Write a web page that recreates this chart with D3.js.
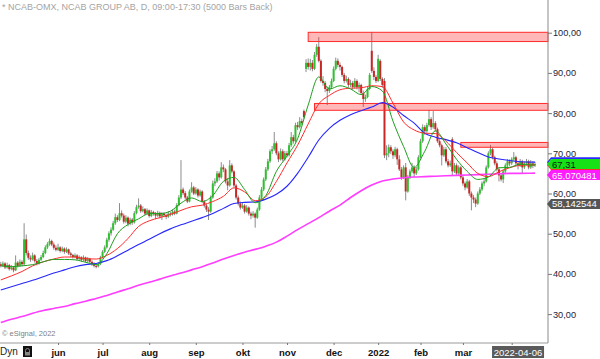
<!DOCTYPE html>
<html>
<head>
<meta charset="utf-8">
<script src="https://cdn.jsdelivr.net/npm/d3@7"></script>
<style>
body{margin:0;background:#fff}
svg{display:block;font-family:"Liberation Sans",Arial,sans-serif}
</style>
</head>
<body>
<svg id="chart" width="600" height="359"></svg>
<script>
// trading calendar (weekdays minus Stockholm holidays)
var firstDay = "2021-04-22", lastDay = "2022-04-20";
var holidays = ["2021-05-13","2021-06-25","2021-12-24","2021-12-31","2022-01-06","2022-04-15","2022-04-18"];

// daily OHLC
var opens = [
42.4,42.0,42.6,41.6,42.2,41.2,41.6,40.9,42.8,42.0,
43.0,42.4,48.6,45.2,44.0,43.6,44.6,43.2,42.6,43.5,
44.2,45.2,46.6,47.4,48.2,47.3,46.5,46.0,46.6,45.7,
46.3,45.5,46.1,45.1,44.7,44.2,44.6,43.7,44.1,43.5,
44.1,43.2,43.8,43.0,42.5,42.0,41.9,42.4,44.1,45.5,
46.6,48.5,50.1,51.0,52.6,54.1,53.4,55.1,54.5,53.0,
54.0,52.5,53.5,52.8,55.1,56.6,57.0,55.6,56.1,55.0,
55.8,54.4,55.4,55.0,54.5,55.2,54.3,55.0,54.6,54.2,
55.0,54.8,55.5,55.0,57.1,59.0,61.0,60.1,59.0,58.0,
60.5,61.5,60.0,61.0,59.5,60.5,58.0,57.0,56.0,55.5,
59.0,62.5,63.0,65.0,64.0,66.5,66.0,63.0,62.0,67.0,
65.5,62.0,59.0,57.5,56.5,57.0,55.5,56.5,55.0,54.5,
55.0,54.0,56.0,59.0,61.0,63.5,66.0,68.0,70.5,71.0,
72.5,70.0,68.5,70.5,68.5,70.0,69.5,72.0,74.0,73.0,
77.0,76.5,78.0,80.5,91.0,92.5,91.5,92.5,91.0,94.5,
96.5,93.0,88.0,87.5,86.0,85.5,86.5,88.0,91.0,93.0,
92.0,91.5,89.5,88.0,88.5,87.0,87.5,86.5,88.0,86.5,
87.0,85.0,83.5,84.0,86.0,95.5,90.5,89.0,88.0,93.0,
88.5,88.0,69.5,70.0,71.5,70.5,69.5,71.0,68.5,66.0,
64.0,66.5,60.5,64.0,65.5,66.5,65.0,66.0,69.0,73.0,
76.5,75.5,77.0,78.5,76.5,77.5,76.0,73.0,72.0,69.5,
71.0,68.0,67.0,73.5,65.5,67.0,65.0,66.5,64.0,62.5,
61.5,63.0,60.0,59.0,58.5,57.5,60.0,61.0,62.5,63.0,
66.5,70.0,71.0,69.0,67.5,66.0,64.5,63.5,65.5,67.0,
68.0,67.5,68.5,69.0,67.5,67.0,68.0,66.5,67.5,68.0,
66.5,67.5,67.0];
var highs = [
43.0,43.1,42.9,42.8,42.5,42.2,41.9,44.6,43.2,43.6,
43.4,52.6,49.8,45.8,44.6,45.3,44.9,43.7,44.0,44.7,
45.8,47.1,47.9,48.8,48.5,47.8,47.1,47.5,46.9,46.8,
46.6,46.6,46.3,45.5,45.0,45.1,44.9,44.6,44.4,44.6,
44.3,44.2,44.0,43.4,42.9,42.5,42.9,44.5,45.9,47.1,
49.0,50.6,51.6,53.2,55.0,54.6,57.6,55.8,55.0,54.6,
54.3,54.0,53.9,55.6,57.2,58.8,57.4,56.8,56.4,56.3,
56.0,55.9,55.7,55.4,55.7,55.5,55.4,55.3,55.0,55.6,
55.4,56.0,56.0,57.6,59.6,68.3,61.5,60.6,59.4,61.0,
62.8,61.9,61.6,61.3,61.0,60.8,58.4,57.5,56.6,59.5,
63.2,63.8,65.6,65.5,67.8,67.2,66.3,63.8,68.3,67.5,
65.8,62.4,59.5,58.0,57.8,57.4,57.1,56.8,55.5,55.6,
55.3,56.5,59.6,61.6,64.0,66.6,68.6,71.0,71.8,75.3,
73.0,70.5,71.2,71.0,70.6,70.6,72.6,75.3,74.6,77.6,
77.8,79.0,78.6,80.9,93.4,93.6,93.5,93.2,95.2,97.2,
98.9,93.4,89.2,88.0,86.6,87.0,88.6,91.6,93.8,93.6,
92.6,91.8,90.0,89.3,88.9,88.3,88.0,88.7,88.4,87.6,
87.3,85.6,84.6,86.6,90.0,100.2,91.4,89.5,94.5,93.4,
88.9,88.7,72.0,72.2,72.0,71.0,71.6,71.4,69.5,66.6,
67.0,67.6,64.6,66.0,67.6,67.0,66.6,69.5,73.6,77.2,
77.0,77.6,80.8,79.0,80.5,78.0,76.4,73.5,72.4,71.6,
71.6,68.6,68.2,74.0,67.6,67.5,67.0,66.9,64.5,63.0,
63.6,63.4,60.5,59.6,59.0,60.5,61.6,63.0,63.6,67.0,
70.5,72.1,71.4,69.4,68.0,66.5,65.0,66.0,67.5,68.6,
68.5,69.0,70.3,69.4,68.0,68.6,68.4,68.0,68.6,68.4,
68.3,68.0,67.9];
var lows = [
41.6,41.7,41.2,41.3,40.8,40.9,40.4,40.7,41.6,41.8,
41.9,42.1,44.6,43.5,43.0,43.3,42.8,42.1,42.3,43.2,
43.9,44.9,46.2,47.0,46.9,46.0,45.6,45.7,45.3,45.4,
45.0,45.2,44.7,44.2,43.8,43.9,43.3,43.4,43.0,43.2,
42.8,42.9,42.6,42.0,41.6,41.4,41.6,42.2,43.8,45.2,
46.3,48.0,49.5,50.7,52.2,52.9,53.1,54.0,52.5,52.6,
51.8,52.1,52.2,52.5,54.8,56.2,55.2,55.3,54.6,54.7,
54.0,54.1,54.5,53.6,54.2,53.8,53.4,54.1,53.6,53.9,
54.3,54.5,54.6,54.8,56.8,58.6,59.6,58.5,57.6,57.8,
60.2,59.6,59.7,59.0,59.2,57.6,56.5,55.4,53.4,55.2,
58.7,61.8,62.6,63.2,63.7,65.3,62.5,60.8,61.7,65.0,
61.5,58.5,57.0,56.0,56.2,55.0,55.2,54.5,53.6,54.0,
51.5,53.7,55.7,58.6,60.6,63.1,65.6,67.6,69.8,70.6,
69.5,67.8,68.2,68.0,68.2,69.0,69.2,71.6,72.4,72.7,
75.8,76.2,77.0,78.6,90.2,90.8,90.6,90.4,90.7,94.0,
92.6,87.6,86.8,85.2,82.0,85.0,86.0,87.7,90.6,91.4,
90.6,89.0,87.4,87.6,86.4,86.5,85.8,86.1,85.9,85.2,
84.5,81.5,82.8,83.7,85.7,90.0,88.2,87.5,87.7,88.0,
86.3,68.8,68.3,69.0,69.8,68.6,69.0,67.1,65.6,63.4,
63.6,58.3,60.2,63.6,65.1,64.1,64.6,65.7,68.7,72.6,
74.6,75.1,76.6,75.8,76.1,75.4,72.6,71.5,67.0,69.1,
67.5,66.5,66.6,64.5,65.1,64.4,64.6,63.5,61.9,60.8,
61.2,59.4,55.8,57.6,56.6,57.2,59.6,60.6,61.8,62.7,
66.2,69.5,68.5,67.0,65.5,63.0,63.0,62.6,65.1,66.5,
66.8,67.1,68.1,67.0,66.0,66.6,65.0,66.1,67.0,66.0,
66.1,66.3,66.6];
var closes = [
42.0,42.6,41.6,42.2,41.2,41.6,40.9,42.8,42.0,43.0,
42.4,48.6,45.2,44.0,43.6,44.6,43.2,42.6,43.5,44.2,
45.2,46.6,47.4,48.2,47.3,46.5,46.0,46.6,45.7,46.3,
45.5,46.1,45.1,44.7,44.2,44.6,43.7,44.1,43.5,44.1,
43.2,43.8,43.0,42.5,42.0,41.9,42.4,44.1,45.5,46.6,
48.5,50.1,51.0,52.6,54.1,53.4,55.1,54.5,53.0,54.0,
52.5,53.5,52.8,55.1,56.6,57.0,55.6,56.1,55.0,55.8,
54.4,55.4,55.0,54.5,55.2,54.3,55.0,54.6,54.2,55.0,
54.8,55.5,55.0,57.1,59.0,61.0,60.1,59.0,58.0,60.5,
61.5,60.0,61.0,59.5,60.5,58.0,57.0,56.0,55.5,59.0,
62.5,63.0,65.0,64.0,66.5,66.0,63.0,62.0,67.0,65.5,
62.0,59.0,57.5,56.5,57.0,55.5,56.5,55.0,54.5,55.0,
54.0,56.0,59.0,61.0,63.5,66.0,68.0,70.5,71.0,72.5,
70.0,68.5,70.5,68.5,70.0,69.5,72.0,74.0,73.0,77.0,
76.5,78.0,77.5,79.0,92.5,91.5,92.5,91.0,94.5,96.5,
93.0,88.0,87.5,86.0,85.5,86.5,88.0,91.0,93.0,92.0,
91.5,89.5,88.0,88.5,87.0,87.5,86.5,88.0,86.5,87.0,
85.0,83.5,84.0,86.0,89.5,90.5,89.0,88.0,93.5,88.5,
87.0,69.5,70.0,71.5,70.5,69.5,71.0,68.5,66.0,64.0,
66.5,60.5,64.0,65.5,66.5,65.0,66.0,69.0,73.0,76.5,
75.5,77.0,78.5,76.5,77.5,76.0,73.0,72.0,69.5,71.0,
68.0,67.0,67.5,65.5,67.0,65.0,66.5,64.0,62.5,61.5,
63.0,60.0,59.0,58.5,57.5,60.0,61.0,62.5,63.0,66.5,
70.0,71.0,69.0,67.5,66.0,64.5,63.5,65.5,67.0,68.0,
67.5,68.5,69.0,67.5,67.0,68.0,66.5,67.5,68.0,66.5,
67.5,67.0,67.31];

// moving averages, one reading every 5th bar (last = last bar)
var maStep = 5;
var ma10 = [42.0,41.8,42.0,42.3,43.0,43.6,43.6,43.5,42.9,42.3,
45.0,50.0,52.3,53.7,55.0,55.0,55.6,57.6,58.9,58.0,
59.5,63.0,64.0,61.0,57.7,59.5,65.5,69.3,73.6,82.0,
89.0,86.0,86.8,86.0,84.6,86.6,85.5,78.0,71.7,66.5,
70.5,75.6,72.3,68.5,65.5,63.5,64.1,66.4,66.5,67.3,
67.1,67.1];
var ma20 = [38.5,39.5,40.6,42.0,43.0,43.7,44.2,44.2,43.8,43.7,
44.6,46.3,48.8,51.8,53.2,54.0,54.8,55.8,56.7,57.1,
58.0,59.3,61.4,60.4,58.2,59.2,63.0,67.6,72.0,77.3,
82.3,84.4,85.8,86.2,86.3,86.8,86.6,82.5,77.8,75.8,
75.0,74.9,73.0,70.2,67.6,65.0,64.2,65.4,66.4,67.0,
67.1,67.1];
var ma50 = [36.0,36.8,37.6,38.4,39.3,40.2,41.0,41.8,42.3,42.6,
43.3,44.5,45.9,47.3,48.6,50.0,51.2,52.2,53.1,54.0,
55.0,56.3,57.5,57.8,57.9,58.6,59.8,61.8,65.0,69.0,
73.3,76.2,78.2,79.6,80.6,81.5,82.6,81.5,79.4,77.5,
75.0,74.0,73.4,72.6,71.4,70.2,69.1,68.6,68.2,67.9,
67.8,67.8];
var ma200 = [27.9,28.7,29.4,30.2,30.9,31.4,31.9,32.6,33.2,33.9,
34.6,35.5,36.3,37.2,37.9,38.7,39.5,40.2,41.0,41.8,
42.7,43.7,44.6,45.4,46.1,46.9,47.9,49.4,51.0,52.5,
54.0,55.6,57.1,59.0,60.7,62.1,63.1,63.6,63.9,64.1,
64.2,64.3,64.4,64.5,64.6,64.7,64.8,64.9,65.0,65.0,
65.05,65.070481];
var refLevel = 58.142544;

// support / resistance zones: [from date, low, high]
var zones = [["2021-11-15",97.8,100.1],["2021-11-18",80.7,82.4],["2022-02-28",71.5,72.7]];

var yTicks = [30,40,50,60,70,80,90,100];
var tickDates = ["2021-06-01","2021-07-01","2021-08-02","2021-09-01","2021-10-01","2021-11-01","2021-12-01","2022-01-03","2022-02-01","2022-03-01","2022-04-01"];
var tickLabels = ["jun","jul","aug","sep","okt","nov","dec","2022","feb","mar",""];
var cursorDate = "2022-04-06";

var svg = d3.select("#chart");
var fmt = d3.utcFormat("%Y-%m-%d"), parse = d3.utcParse("%Y-%m-%d");
var days = d3.utcDays(parse(firstDay), d3.utcDay.offset(parse(lastDay), 1))
  .filter(d => d.getUTCDay() % 6 !== 0 && holidays.indexOf(fmt(d)) < 0)
  .map(fmt);
var n = Math.min(days.length, closes.length);
days = days.slice(0, n);

var axisX = 548, axisY = 343;
var x = d3.scalePoint().domain(days).range([0.8, 535]);
var y = d3.scaleLinear().domain([30, 100]).range([314.1, 32.7]);
var comma = v => v.replace(".", ",");

var bars = days.map((d, i) => ({d: d, o: opens[i], h: highs[i], l: lows[i], c: closes[i]}));

svg.append("rect").attr("width", 600).attr("height", 359).attr("fill", "#fff");

// title + credit
svg.append("text").attr("x", 2).attr("y", 10).attr("font-size", 9).attr("fill", "#a4a4a4")
  .text("* NCAB-OMX, NCAB GROUP AB, D, 09:00-17:30 (5000 Bars Back)");
svg.append("text").attr("x", 2).attr("y", 336).attr("font-size", 7.5).attr("fill", "#808080")
  .text("\u00a9 eSignal, 2022");

// candles
var cg = svg.append("g");
cg.selectAll("line").data(bars).join("line")
  .attr("x1", d => x(d.d)).attr("x2", d => x(d.d))
  .attr("y1", d => y(d.h)).attr("y2", d => y(d.l))
  .attr("stroke", "#8c8c8c").attr("stroke-width", 1);
cg.selectAll("rect").data(bars).join("rect")
  .attr("x", d => x(d.d) - 1).attr("width", 2)
  .attr("y", d => y(Math.max(d.o, d.c)))
  .attr("height", d => Math.max(1, Math.abs(y(d.o) - y(d.c))))
  .attr("fill", d => d.c >= d.o ? "#2ec02e" : "#c92626");

// zones
svg.append("g").selectAll("rect").data(zones).join("rect")
  .attr("x", d => x(d[0])).attr("width", d => axisX - x(d[0]))
  .attr("y", d => y(d[2])).attr("height", d => y(d[1]) - y(d[2]))
  .attr("fill", "#ff2020").attr("fill-opacity", 0.32)
  .attr("stroke", "#ff2a2a").attr("stroke-width", 1);

// moving averages
var maLine = d3.line()
  .x((v, k) => x(days[Math.min(k * maStep, n - 1)]))
  .y(v => y(v))
  .curve(d3.curveMonotoneX);
[[ma200, "#ff3cff", 1.6], [ma50, "#2626ff", 1.1], [ma20, "#ff2b2b", 1], [ma10, "#1e9e1e", 1]]
  .forEach(m => {
    svg.append("path").attr("d", maLine(m[0])).attr("fill", "none")
      .attr("stroke", m[1]).attr("stroke-width", m[2]);
  });

// right axis
svg.append("line").attr("x1", axisX).attr("x2", axisX).attr("y1", 0).attr("y2", axisY)
  .attr("stroke", "#8a8a8a");
var ya = svg.append("g").attr("transform", "translate(" + axisX + ",0)")
  .call(d3.axisRight(y).tickValues(yTicks).tickSize(4).tickPadding(1)
    .tickFormat(v => comma(d3.format(".2f")(v))));
ya.select(".domain").remove();
ya.selectAll("line").attr("stroke", "#777");
ya.selectAll("text").attr("font-size", 9.2).attr("fill", "#1c1c38")
  .attr("font-family", "Liberation Sans, Arial, sans-serif");

// value flags
function flag(yc, fill, txt, txtFill) {
  var g = svg.append("g");
  g.append("path")
    .attr("d", "M" + (axisX - 1) + "," + yc + "L" + (axisX + 3) + "," + (yc - 5) + "H600V" + (yc + 5) + "H" + (axisX + 3) + "Z")
    .attr("fill", fill);
  g.append("text").attr("x", axisX + 4).attr("y", yc + 3.4).attr("font-size", 9.5)
    .attr("fill", txtFill).text(txt);
}
var lastC = closes[n - 1];
flag(y(ma50[ma50.length - 1]), "#2a2aff", "", "#fff");
flag(y(ma20[ma20.length - 1]), "#ff2b2b", "", "#fff");
var yc = y(lastC);
flag(yc, "#16e016", comma(d3.format(".2f")(lastC)), "#102010");
var ym = Math.max(y(ma200[ma200.length - 1]), yc + 11);
flag(ym, "#ff1cff", comma(d3.format(".6f")(ma200[ma200.length - 1])), "#fff");
// keep the grey flag just clear of the 60,00 tick label
flag(Math.max(y(refLevel) + 1, y(60) + 10.5), "#555", comma(d3.format(".6f")(refLevel)), "#fff");

// bottom axis
svg.append("line").attr("x1", 0).attr("x2", axisX).attr("y1", axisY).attr("y2", axisY)
  .attr("stroke", "#9a9a9a");
var xa = svg.append("g").attr("transform", "translate(0," + axisY + ")")
  .call(d3.axisBottom(x).tickValues(tickDates).tickSize(2).tickPadding(4)
    .tickFormat((d, i) => tickLabels[i]));
xa.select(".domain").remove();
xa.selectAll("line").attr("stroke", "#777");
xa.selectAll("text").attr("font-size", 9.5).attr("font-weight", "bold").attr("fill", "#111")
  .attr("font-family", "Liberation Sans, Arial, sans-serif");

svg.append("text").attr("x", 0).attr("y", 355).attr("font-size", 10).attr("fill", "#222").text("Dyn");
svg.append("rect").attr("x", 23).attr("y", 346).attr("width", 9).attr("height", 11).attr("fill", "#111");
svg.append("path").attr("d", "M25.5,354V350.5a2,2 0 0 1 4,0V354").attr("fill", "none").attr("stroke", "#888");
svg.append("rect").attr("x", 25).attr("y", 352).attr("width", 5).attr("height", 3.5).attr("fill", "#888");

var cx = x(cursorDate);
svg.append("rect").attr("x", cx - 26).attr("y", 346).attr("width", 52).attr("height", 12).attr("fill", "#5a5a5a");
svg.append("text").attr("x", cx).attr("y", 355.5).attr("text-anchor", "middle").attr("font-size", 9.5)
  .attr("fill", "#fff").text(cursorDate);
</script>
</body>
</html>
